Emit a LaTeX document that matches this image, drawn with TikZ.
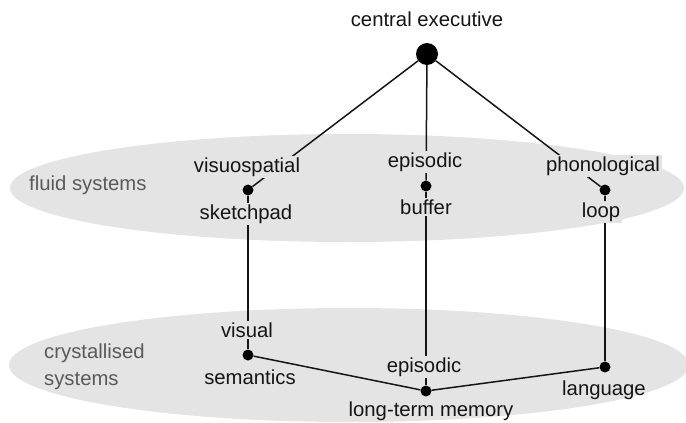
\documentclass[tikz,border=0pt]{standalone}
\usepackage{fontspec}
\setmainfont{Liberation Sans}
\definecolor{zone}{HTML}{E4E4E4}
\definecolor{zonetext}{HTML}{5A5A5A}
\definecolor{ink}{HTML}{151515}
\begin{document}
\begin{tikzpicture}[x=1pt,y=-1pt,
  every node/.style={font=\fontsize{20.3}{27}\selectfont,text=ink},
  dot/.style={circle,fill=black,inner sep=0pt,minimum size=11pt},
  bigdot/.style={circle,fill=black,inner sep=0pt,minimum size=22pt},
  lbl/.style={anchor=base,inner sep=1.5pt},
  covered/.style={lbl,fill=zone},
  link/.style={line width=1.5pt,draw=ink},
  zonelbl/.style={text=zonetext,align=left,anchor=base west,inner sep=0pt}]
\useasboundingbox (0,0) rectangle (686,423);

% shaded regions for the two kinds of system
\fill[zone] (347,188) ellipse [x radius=337pt, y radius=54pt];
\fill[zone] (349,365) ellipse [x radius=340pt, y radius=57pt];

% junction points
\node[bigdot] (exec) at (427,54) {};
\node[dot] (vs)   at (248,190) {};
\node[dot] (eb)   at (426,186) {};
\node[dot] (pl)   at (605,190) {};
\node[dot] (sem)  at (248,355) {};
\node[dot] (ltm)  at (426,391) {};
\node[dot] (lang) at (605,367) {};

% connections
\draw[link] (exec) -- (vs);
\draw[link] (exec) -- (eb);
\draw[link] (exec) -- (pl);
\draw[link] (vs) -- (sem);
\draw[link] (eb) -- (ltm);
\draw[link] (pl) -- (lang);
\draw[link] (sem) -- (ltm) -- (lang);

% labels
\node[lbl] (ce) at (427,27) {central executive};
\node[covered] (vsa) at (247,172) {visuospatial};
\node[covered] (vsb) at (246,219) {sketchpad};
\node[covered] (eba) at (425,167) {episodic};
\node[covered] (ebb) at (426,214) {buffer};
\node[covered] (pla) at (603,171) {phonological};
\node[covered] (plb) at (601,217) {loop};
\node[covered] (sema) at (247,337) {visual};
\node[lbl] (semb) at (250,384) {semantics};
\node[covered] (ltma) at (424,372) {episodic};
\node[lbl] (ltmb) at (431,416) {long-term memory};
\node[lbl] (langb) at (604,395) {language};

\node[zonelbl] (fluid) at (29,190) {fluid systems};
\node[zonelbl] (cryst) at (44,358) {crystallised};
\node[zonelbl] (cryst2) at (44,385) {systems};
\end{tikzpicture}
\end{document}
